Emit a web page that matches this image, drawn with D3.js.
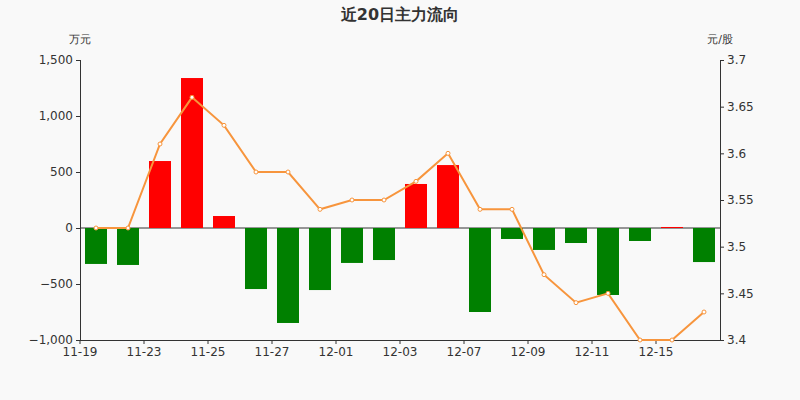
<!DOCTYPE html>
<html>
<head>
<meta charset="UTF-8">
<script src="https://cdn.jsdelivr.net/npm/d3@7"></script>
<style>
  body { margin: 0; background: #f9f9f9; }
  text { font-family: "DejaVu Sans", sans-serif; }
</style>
</head>
<body>
<svg id="chart" width="800" height="400"></svg>
<script>
const dates = ["11-19","11-20","11-23","11-24","11-25","11-26","11-27","11-30","12-01","12-02",
               "12-03","12-04","12-07","12-08","12-09","12-10","12-11","12-14","12-15","12-16"];
const flow = [-321,-330,598,1339,107,-545,-848,-554,-312,-286,393,562,-750,-98,-196,-134,-598,-116,9,-304];
const price = [3.52,3.52,3.61,3.66,3.63,3.58,3.58,3.54,3.55,3.55,3.57,3.60,3.54,3.54,3.47,3.44,3.45,3.40,3.40,3.43];
const leftTicks = [-1000,-500,0,500,1000,1500];
const rightTicks = [3.4,3.45,3.5,3.55,3.6,3.65,3.7];

const svg = d3.select("#chart");
svg.append("rect").attr("width",800).attr("height",400).attr("fill","#f9f9f9");

const x = d3.scaleBand().domain(dates).range([80,720]);
const yL = d3.scaleLinear().domain([-1000,1500]).range([340,60]);
const yR = d3.scaleLinear().domain([3.4,3.7]).range([340,60]);

svg.append("text").attr("x",400).attr("y",20).attr("text-anchor","middle")
  .attr("font-size",16).attr("font-weight","bold").attr("fill","#333").text("近20日主力流向");
svg.append("text").attr("x",80).attr("y",43).attr("text-anchor","middle")
  .attr("font-size",11).attr("fill","#333").text("万元");
svg.append("text").attr("x",720).attr("y",43).attr("text-anchor","middle")
  .attr("font-size",11).attr("fill","#333").text("元/股");

const fmt = d3.format(",");
const gl = svg.append("g").attr("transform","translate(80,0)")
  .call(d3.axisLeft(yL).tickValues(leftTicks).tickFormat(d => fmt(d)).tickSize(4));
const gr = svg.append("g").attr("transform","translate(720,0)")
  .call(d3.axisRight(yR).tickValues(rightTicks).tickFormat(d => d3.format("")(+d.toFixed(2))).tickSize(4));
const gx = svg.append("g").attr("transform","translate(0,340)")
  .call(d3.axisBottom(x).tickValues(dates.filter((d,i)=>i%2===0)).tickSize(4));
gx.selectAll(".tick").attr("transform", d => `translate(${x(d)+x.bandwidth()/2 - 16},0)`);
gx.select(".domain").attr("d","M80,0.5H720");
[gl,gr,gx].forEach(g => {
  g.selectAll("text").attr("font-size",12).attr("fill","#333").style("font-family","DejaVu Sans");
  g.selectAll("line,path").attr("stroke","#333");
});
gl.select(".domain").attr("d","M0.5,60V340");
gr.select(".domain").attr("d","M0.5,60V340");

svg.append("line").attr("x1",80).attr("x2",720).attr("y1",yL(0)).attr("y2",yL(0)).attr("stroke","#333");

const bw = 22;
svg.selectAll("rect.bar").data(flow).enter().append("rect").attr("class","bar")
  .attr("x",(d,i)=>x(dates[i])+(x.bandwidth()-bw)/2)
  .attr("y",d=>yL(Math.max(0,d)))
  .attr("width",bw)
  .attr("height",d=>Math.abs(yL(d)-yL(0)))
  .attr("fill",d=>d>=0?"#ff0000":"#008000");

const line = d3.line().x((d,i)=>x(dates[i])+x.bandwidth()/2).y(d=>yR(d));
svg.append("path").datum(price).attr("d",line).attr("fill","none")
  .attr("stroke","#f7953d").attr("stroke-width",2);
svg.selectAll("circle").data(price).enter().append("circle")
  .attr("cx",(d,i)=>x(dates[i])+x.bandwidth()/2).attr("cy",d=>yR(d)).attr("r",2)
  .attr("fill","#fff").attr("stroke","#f7953d").attr("stroke-width",1);
</script>
</body>
</html>
